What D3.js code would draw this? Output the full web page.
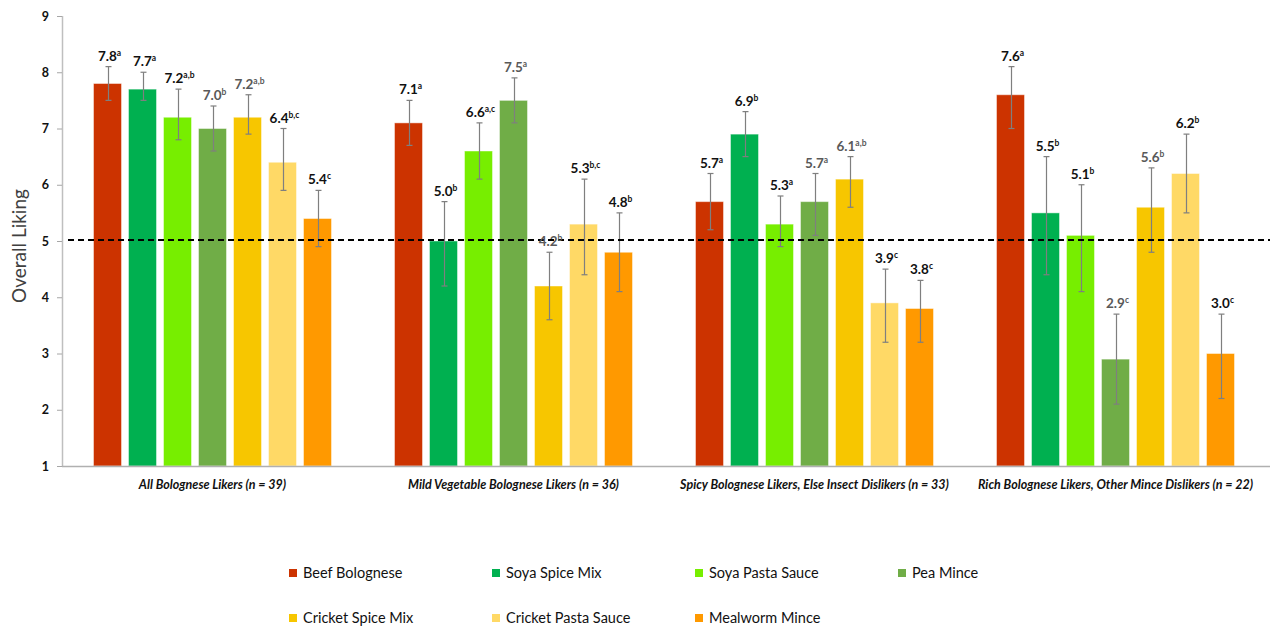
<!DOCTYPE html>
<html>
<head>
<meta charset="utf-8">
<script src="https://cdn.jsdelivr.net/npm/d3@7"></script>
<style>
  html, body { margin: 0; padding: 0; background: #ffffff; }
  svg { display: block; }
</style>
</head>
<body>
<svg id="chart" width="1283" height="626"></svg>
<script>
// ---------- DATA ----------
const groups = [
  "All Bolognese Likers (n = 39)",
  "Mild Vegetable Bolognese Likers (n = 36)",
  "Spicy Bolognese Likers, Else Insect Dislikers (n = 33)",
  "Rich Bolognese Likers, Other Mince Dislikers (n = 22)"
];
const seriesNames = ["Beef Bolognese", "Soya Spice Mix", "Soya Pasta Sauce", "Pea Mince",
                     "Cricket Spice Mix", "Cricket Pasta Sauce", "Mealworm Mince"];

// mean liking per group
const beefBolognese     = [7.8, 7.1, 5.7, 7.6];
const soyaSpiceMix      = [7.7, 5.0, 6.9, 5.5];
const soyaPastaSauce    = [7.2, 6.6, 5.3, 5.1];
const peaMince          = [7.0, 7.5, 5.7, 2.9];
const cricketSpiceMix   = [7.2, 4.2, 6.1, 5.6];
const cricketPastaSauce = [6.4, 5.3, 3.9, 6.2];
const mealwormMince     = [5.4, 4.8, 3.8, 3.0];

// error bar lower / upper ends
const beefLow  = [7.5, 6.7, 5.2, 7.0], beefHigh  = [8.1, 7.5, 6.2, 8.1];
const soyaSpiceLow = [7.5, 4.2, 6.5, 4.4], soyaSpiceHigh = [8.0, 5.7, 7.3, 6.5];
const soyaPastaLow = [6.8, 6.1, 4.9, 4.1], soyaPastaHigh = [7.7, 7.1, 5.8, 6.0];
const peaLow   = [6.6, 7.1, 5.1, 2.1], peaHigh   = [7.4, 7.9, 6.2, 3.7];
const cricketSpiceLow = [6.9, 3.6, 5.6, 4.8], cricketSpiceHigh = [7.6, 4.8, 6.5, 6.3];
const cricketPastaLow = [5.9, 4.4, 3.2, 5.5], cricketPastaHigh = [7.0, 6.1, 4.5, 6.9];
const mealwormLow = [4.9, 4.1, 3.2, 2.2], mealwormHigh = [5.9, 5.5, 4.3, 3.7];

// significance letters
const beefLetters         = ["a", "a", "a", "a"];
const soyaSpiceLetters    = ["a", "b", "b", "b"];
const soyaPastaLetters    = ["a,b", "a,c", "a", "b"];
const peaLetters          = ["b", "a", "a", "c"];
const cricketSpiceLetters = ["a,b", "b", "a,b", "b"];
const cricketPastaLetters = ["b,c", "b,c", "c", "b"];
const mealwormLetters     = ["c", "b", "c", "c"];

const yTicks = [1, 2, 3, 4, 5, 6, 7, 8, 9];
const referenceValue = 5;

// ---------- STYLE ----------
const colors = ["#cc3300", "#00b050", "#77ee00", "#70ad47", "#f7c600", "#ffd966", "#ff9900"];
const labelColors = ["#111", "#111", "#111", "#595959", "#595959", "#111", "#111"];
const FONT = "Lato, 'Open Sans', sans-serif";

// ---------- BUILD TABLE ----------
const means   = [beefBolognese, soyaSpiceMix, soyaPastaSauce, peaMince, cricketSpiceMix, cricketPastaSauce, mealwormMince];
const lows    = [beefLow, soyaSpiceLow, soyaPastaLow, peaLow, cricketSpiceLow, cricketPastaLow, mealwormLow];
const highs   = [beefHigh, soyaSpiceHigh, soyaPastaHigh, peaHigh, cricketSpiceHigh, cricketPastaHigh, mealwormHigh];
const letters = [beefLetters, soyaSpiceLetters, soyaPastaLetters, peaLetters, cricketSpiceLetters, cricketPastaLetters, mealwormLetters];

const rows = [];
groups.forEach((g, gi) => {
  seriesNames.forEach((s, si) => {
    rows.push({ group: g, series: s, si, value: means[si][gi], low: lows[si][gi], high: highs[si][gi], letter: letters[si][gi] });
  });
});

// ---------- CHART ----------
const svg = d3.select("#chart");
const mLeft = 62, mRight = 1266, mTop = 16, mBottom = 466;

const y = d3.scaleLinear().domain([1, 9]).range([mBottom, mTop]);
const x0 = d3.scaleBand().domain(groups).range([mLeft, mRight]).paddingInner(0).paddingOuter(0);
const x1 = d3.scaleBand().domain(seriesNames).range([0, x0.bandwidth()]).paddingInner(0.2).paddingOuter(0.9);

// bars
svg.append("g").selectAll("rect").data(rows).join("rect")
  .attr("x", d => x0(d.group) + x1(d.series))
  .attr("y", d => y(d.value))
  .attr("width", x1.bandwidth())
  .attr("height", d => y(1) - y(d.value))
  .attr("fill", d => colors[d.si])
  .attr("stroke", "#ffffff")
  .attr("stroke-opacity", 0.45)
  .attr("stroke-width", 1);

// error bars
const eb = svg.append("g").attr("stroke", "#7f7f7f").attr("stroke-width", 1.2);
rows.forEach(d => {
  const cx = Math.round(x0(d.group) + x1(d.series) + x1.bandwidth() / 2) + 0.5;
  eb.append("line").attr("x1", cx).attr("x2", cx).attr("y1", y(d.low)).attr("y2", y(d.high));
  eb.append("line").attr("x1", cx - 3).attr("x2", cx + 3).attr("y1", y(d.low)).attr("y2", y(d.low));
  eb.append("line").attr("x1", cx - 3).attr("x2", cx + 3).attr("y1", y(d.high)).attr("y2", y(d.high));
});

// reference dashed line
svg.append("line")
  .attr("x1", mLeft + 6).attr("x2", 1270)
  .attr("y1", y(referenceValue) - 1).attr("y2", y(referenceValue) - 1)
  .attr("stroke", "#000").attr("stroke-width", 2).attr("stroke-dasharray", "6,4");

// value labels
const lbl = svg.append("g").attr("font-family", FONT).attr("font-weight", 700).attr("text-anchor", "middle");
rows.forEach(d => {
  const cx = x0(d.group) + x1(d.series) + x1.bandwidth() / 2;
  const t = lbl.append("text")
    .attr("x", cx + 2)
    .attr("y", y(d.high) - 6)
    .attr("font-size", 13.5)
    .attr("fill", labelColors[d.si]);
  t.append("tspan").text(d.value.toFixed(1));
  t.append("tspan").attr("font-size", 8.5).attr("dy", -5).text(d.letter);
});

// y axis
const yAxis = svg.append("g").attr("transform", `translate(${mLeft},0)`)
  .call(d3.axisLeft(y).tickValues(yTicks).tickFormat(d3.format("d")).tickSize(5).tickPadding(8));
yAxis.select(".domain").attr("stroke", "#bfbfbf").attr("stroke-width", 1.5)
  .attr("d", `M0.5,${mTop}V${mBottom}`);
yAxis.selectAll(".tick line").attr("stroke", "#a6a6a6");
yAxis.selectAll(".tick text").attr("font-family", FONT).attr("font-weight", 700).attr("font-size", 12.5).attr("fill", "#111");

// x axis line
svg.append("line").attr("x1", mLeft).attr("x2", 1270).attr("y1", mBottom + 0.5).attr("y2", mBottom + 0.5)
  .attr("stroke", "#b0b0b0").attr("stroke-width", 1.5);

// group labels
svg.append("g").selectAll("text").data(groups).join("text")
  .attr("x", d => x0(d) + x0.bandwidth() / 2)
  .attr("y", 489)
  .attr("text-anchor", "middle")
  .attr("font-family", FONT).attr("font-style", "italic").attr("font-weight", 700)
  .attr("font-size", 12.5).attr("fill", "#111")
  .text(d => d);

// y axis title
svg.append("text")
  .attr("transform", "translate(26,246) rotate(-90)")
  .attr("text-anchor", "middle")
  .attr("font-family", FONT).attr("font-size", 19).attr("fill", "#404040")
  .text("Overall Liking");

// legend
const legend = svg.append("g").attr("font-family", FONT).attr("font-size", 14.5).attr("fill", "#111");
seriesNames.forEach((s, i) => {
  const col = i < 4 ? i : i - 4;
  const row = i < 4 ? 0 : 1;
  const lx = 289 + col * 203;
  const ly = row === 0 ? 573 : 618;
  legend.append("rect").attr("x", lx).attr("y", ly - 4).attr("width", 8).attr("height", 8).attr("fill", colors[i]);
  legend.append("text").attr("x", lx + 14).attr("y", ly).attr("dy", "0.35em").text(s);
});
</script>
</body>
</html>
